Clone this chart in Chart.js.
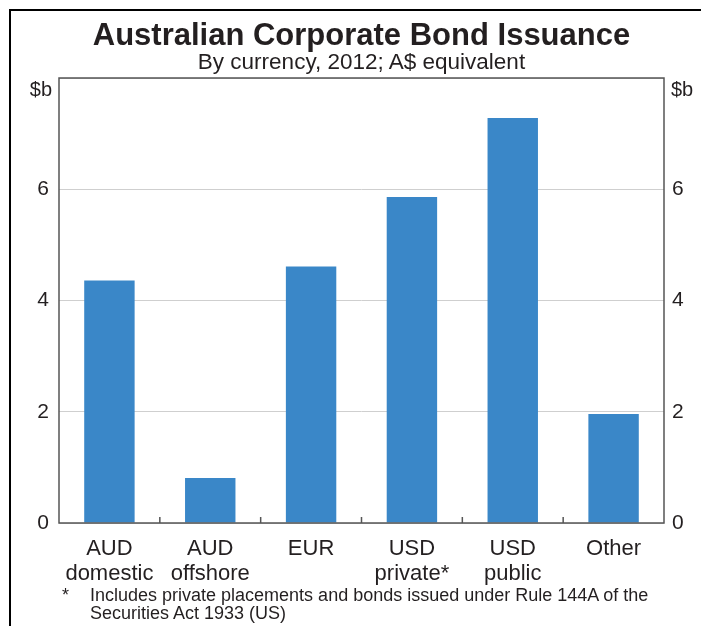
<!DOCTYPE html>
<html>
<head>
<meta charset="utf-8">
<script src="https://cdn.jsdelivr.net/npm/chart.js@4"></script>
<style>
  body { margin: 0; background: #fff; font-family: "Liberation Sans", Arial, sans-serif; }
  #wrap { position: relative; width: 701px; height: 626px; overflow: hidden; }
  #frame { position: absolute; left: 9px; top: 9px; width: 700px; height: 630px;
           border-left: 2px solid #000; border-top: 2px solid #000; }
  canvas { position: absolute; left: 0; top: 0; }
  .title { position: absolute; left: 59px; width: 605px; text-align: center; color: #231f20; white-space: nowrap; }
  #t1 { top: 17px; font-size: 31px; line-height: 36px; font-weight: bold; }
  #t2 { top: 50px; font-size: 22.5px; line-height: 24px; }
  #note { position: absolute; left: 62px; top: 586px; font-size: 18px; line-height: 18px; color: #231f20; white-space: nowrap; }
  #note span { display: inline-block; width: 28px; }
</style>
</head>
<body>
<div id="wrap">
  <div id="frame"></div>
  <canvas id="chart" width="701" height="626"></canvas>
  <div class="title" id="t1">Australian Corporate Bond Issuance</div>
  <div class="title" id="t2">By currency, 2012; A$ equivalent</div>
  <div id="note"><span>*</span>Includes private placements and bonds issued under Rule 144A of the<br><span></span>Securities Act 1933 (US)</div>
</div>
<script>
// données
const categories = [['AUD', 'domestic'], ['AUD', 'offshore'], 'EUR', ['USD', 'private*'], ['USD', 'public'], 'Other'];
const issuance = [4.36, 0.81, 4.61, 5.86, 7.28, 1.96];
const yTicks = [0, 2, 4, 6, 8];
const unitLabel = '$b';

const textColor = '#231f20';
const xFont = { family: 'Liberation Sans', size: 22, lineHeight: 1.15 };
const yFont = { family: 'Liberation Sans', size: 21 };

// cadre, petites graduations et unités
const framePlugin = {
  id: 'frame',
  afterDraw(chart) {
    const { ctx, chartArea: a, scales } = chart;
    ctx.save();
    ctx.strokeStyle = '#555';
    ctx.lineWidth = 1.5;
    ctx.strokeRect(a.left, a.top, a.right - a.left, a.bottom - a.top);
    ctx.beginPath();
    for (let i = 1; i < categories.length; i++) {
      const x = (scales.x.getPixelForValue(i - 1) + scales.x.getPixelForValue(i)) / 2;
      ctx.moveTo(x, a.bottom);
      ctx.lineTo(x, a.bottom - 6);
    }
    ctx.stroke();
    ctx.fillStyle = textColor;
    ctx.font = '20px "Liberation Sans"';
    ctx.textBaseline = 'middle';
    ctx.textAlign = 'right';
    ctx.fillText(unitLabel, a.left - 7, a.top + 12);
    ctx.textAlign = 'left';
    ctx.fillText(unitLabel, a.right + 7, a.top + 12);
    ctx.restore();
  }
};

const yAxis = (pos) => ({
  position: pos,
  min: 0,
  max: 8,
  afterBuildTicks: (scale) => { scale.ticks = yTicks.map(v => ({ value: v })); },
  afterFit: (scale) => { scale.width = pos === 'left' ? 59 : 37; },
  grid: { display: pos === 'left', color: '#cfcfcf', lineWidth: 1, drawTicks: false },
  border: { display: false },
  ticks: {
    color: textColor,
    font: yFont,
    padding: pos === 'left' ? 10 : 8,
    callback: (v) => (v === 8 ? '' : v)
  }
});

new Chart(document.getElementById('chart'), {
  type: 'bar',
  data: {
    labels: categories,
    datasets: [{
      data: issuance,
      backgroundColor: '#3a87c8',
      barPercentage: 0.5,
      categoryPercentage: 1
    }]
  },
  options: {
    responsive: false,
    animation: false,
    layout: { padding: { top: 78, bottom: 0, left: 0, right: 0 } },
    plugins: { legend: { display: false }, tooltip: { enabled: false } },
    scales: {
      x: {
        afterFit: (scale) => { scale.height = 103; },
        grid: { display: false, drawTicks: false },
        border: { display: false },
        ticks: { color: textColor, font: xFont, padding: 13, maxRotation: 0 }
      },
      y: yAxis('left'),
      y2: yAxis('right')
    }
  },
  plugins: [framePlugin]
});
</script>
</body>
</html>
